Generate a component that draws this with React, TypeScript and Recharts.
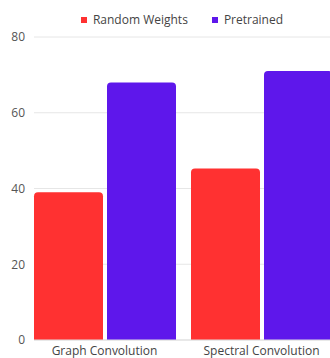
import React from "react";
import { BarChart, Bar, XAxis, YAxis, CartesianGrid, Legend } from "recharts";

const categories = ["Graph Convolution", "Spectral Convolution"];
const randomWeights = [39, 45.3];
const pretrained = [68, 71];
const yTicks = [0, 20, 40, 60, 80];
const seriesNames = ["Random Weights", "Pretrained"];
const colors = ["#FF3131", "#5E17EB"];

const data = categories.map((c, i) => ({
  name: c,
  random: randomWeights[i],
  pretrained: pretrained[i],
}));

const FONT = "'Open Sans', sans-serif";

const renderLegend = () => (
  <div style={{ display: "flex", justifyContent: "center", alignItems: "center", fontFamily: FONT, fontSize: 12, color: "#444" }}>
    {seriesNames.map((n, i) => (
      <div key={n} style={{ display: "flex", alignItems: "center", marginRight: i === 0 ? 24 : 0 }}>
        <span style={{ display: "inline-block", width: 6, height: 6, background: colors[i], marginRight: 6 }} />
        <span>{n}</span>
      </div>
    ))}
  </div>
);

export default function App() {
  return (
    <div style={{ position: "absolute", left: 0, top: 0, width: 330, height: 358, overflow: "hidden", background: "#fff" }}>
      <BarChart
        width={360}
        height={358}
        data={data}
        margin={{ top: 37, right: 28, bottom: 0, left: 0 }}
        barCategoryGap={8}
        barGap={4}
      >
        <CartesianGrid horizontal vertical={false} stroke="#e6e6e6" />
        <XAxis
          dataKey="name"
          padding={{ left: -8, right: -8 }}
          tickLine={false}
          tickSize={0}
          tickMargin={6}
          height={18}
          axisLine={{ stroke: "#dddddd" }}
          tick={{ fill: "#444", fontSize: 12, fontFamily: FONT }}
          interval={0}
        />
        <YAxis
          domain={[0, 80]}
          ticks={yTicks}
          width={34}
          axisLine={false}
          tickLine={false}
          tickSize={0}
          tickMargin={9}
          tick={{ fill: "#555", fontSize: 12, fontFamily: FONT }}
        />
        <Legend
          verticalAlign="middle"
          align="center"
          layout="horizontal"
          content={renderLegend}
          wrapperStyle={{ top: 11, left: 2, width: 360 }}
        />
        <Bar dataKey="random" name={seriesNames[0]} fill={colors[0]} radius={[4, 4, 0, 0]} isAnimationActive={false} />
        <Bar dataKey="pretrained" name={seriesNames[1]} fill={colors[1]} radius={[4, 4, 0, 0]} isAnimationActive={false} />
      </BarChart>
    </div>
  );
}
